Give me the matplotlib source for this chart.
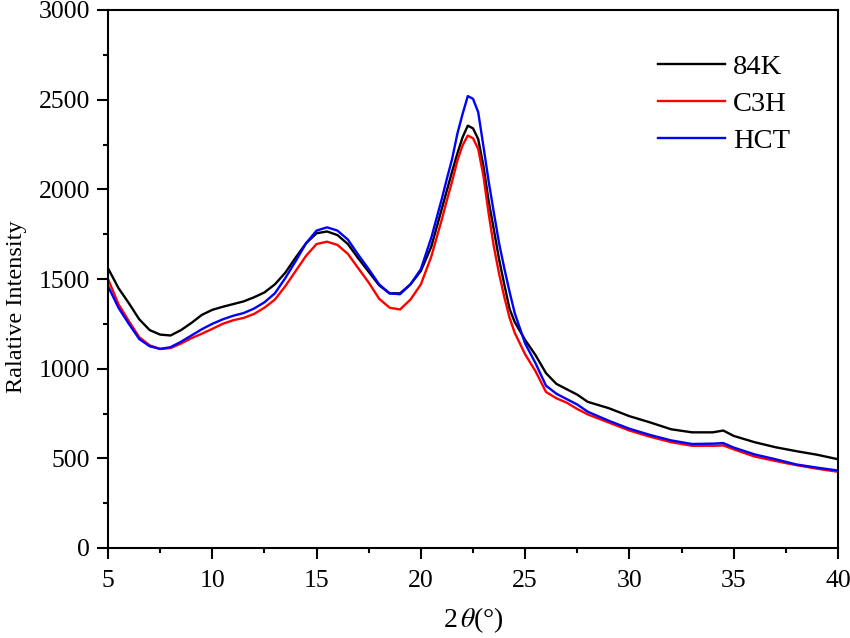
import matplotlib
matplotlib.use("Agg")
import matplotlib.pyplot as plt
from matplotlib.ticker import MultipleLocator

plt.rcParams['font.family'] = ['Liberation Serif', 'DejaVu Serif']
plt.rcParams['mathtext.fontset'] = 'stix'

two_theta = [5, 5.5, 6, 6.5, 7, 7.5, 8, 8.5, 9, 9.5, 10, 10.5, 11, 11.5, 12, 12.5,
             13, 13.5, 14, 14.5, 15, 15.5, 16, 16.5, 17, 17.5, 18, 18.5, 19, 19.5,
             20, 20.5, 21, 21.25, 21.5, 21.75, 22, 22.25, 22.5, 22.75, 23, 23.25,
             23.5, 23.75, 24, 24.25, 24.5, 25, 25.5, 26, 26.5, 27, 27.5, 28, 29,
             30, 31, 32, 33, 34, 34.5, 35, 36, 37, 38, 39, 40]

k84 = [1560, 1450, 1365, 1275, 1215, 1190, 1185, 1215, 1255, 1300, 1328, 1345,
       1360, 1375, 1398, 1425, 1470, 1535, 1620, 1700, 1755, 1765, 1745, 1695,
       1615, 1540, 1465, 1420, 1420, 1470, 1545, 1680, 1890, 1995, 2100, 2200,
       2290, 2355, 2340, 2280, 2130, 1935, 1775, 1610, 1470, 1335, 1260, 1160,
       1075, 975, 915, 885, 855, 815, 780, 735, 700, 662, 645, 645, 655, 625,
       590, 562, 540, 520, 495]

c3h = [1500, 1360, 1265, 1175, 1130, 1110, 1115, 1140, 1170, 1195, 1222, 1250,
       1270, 1283, 1305, 1340, 1385, 1460, 1545, 1630, 1695, 1708, 1690, 1640,
       1560, 1480, 1390, 1340, 1330, 1385, 1470, 1625, 1830, 1940, 2045, 2160,
       2245, 2300, 2285, 2225, 2075, 1865, 1680, 1530, 1400, 1285, 1200, 1080,
       985, 870, 835, 810, 775, 745, 700, 655, 620, 590, 570, 570, 572, 550,
       510, 485, 462, 442, 425]

hct = [1460, 1340, 1250, 1165, 1125, 1110, 1120, 1150, 1185, 1220, 1250, 1275,
       1295, 1310, 1335, 1370, 1420, 1505, 1600, 1700, 1770, 1788, 1770, 1720,
       1635, 1555, 1470, 1420, 1415, 1470, 1555, 1730, 1945, 2060, 2170, 2310,
       2420, 2520, 2505, 2430, 2240, 2045, 1870, 1700, 1560, 1430, 1310, 1140,
       1030, 905, 860, 830, 800, 760, 710, 665, 630, 600, 580, 582, 585, 560,
       522, 495, 466, 448, 432]

series_names = ['84K', 'C3H', 'HCT']
series_colors = ['#000000', '#ff0000', '#0000ff']

fig = plt.figure(figsize=(8.5, 6.38), dpi=100)
ax = fig.add_axes([108/850, 90/638, 730/850, 538/638])

for vals, name, col in zip([k84, c3h, hct], series_names, series_colors):
    ax.plot(two_theta, vals, color=col, lw=1.7, label=name)

ax.set_xlim(5, 40)
ax.set_ylim(0, 3000)
ax.xaxis.set_major_locator(MultipleLocator(5))
ax.xaxis.set_minor_locator(MultipleLocator(2.5))
ax.yaxis.set_major_locator(MultipleLocator(500))
ax.yaxis.set_minor_locator(MultipleLocator(250))
ax.tick_params(which='both', direction='out', top=False, right=False,
               width=1.5, labelsize=18.5)
ax.tick_params(axis='x', which='both', pad=7.5)
ax.tick_params(axis='y', which='both', pad=5)
ax.tick_params(which='major', length=8)
ax.tick_params(which='minor', length=3.8)
for s in ax.spines.values():
    s.set_linewidth(1.5)

ax.set_xlabel(r'2$\,\theta$(°)', fontsize=20, labelpad=10)
ax.set_ylabel('Ralative Intensity', fontsize=17.5)
ax.yaxis.set_label_coords(-0.111, 0.448)

ax.legend(loc='upper left', bbox_to_anchor=(0.753, 0.918), frameon=False,
          fontsize=20.5, handlelength=2.35, handletextpad=0.3, labelspacing=0.38,
          borderpad=0, borderaxespad=0)

fig.savefig('out.png', dpi=100)
